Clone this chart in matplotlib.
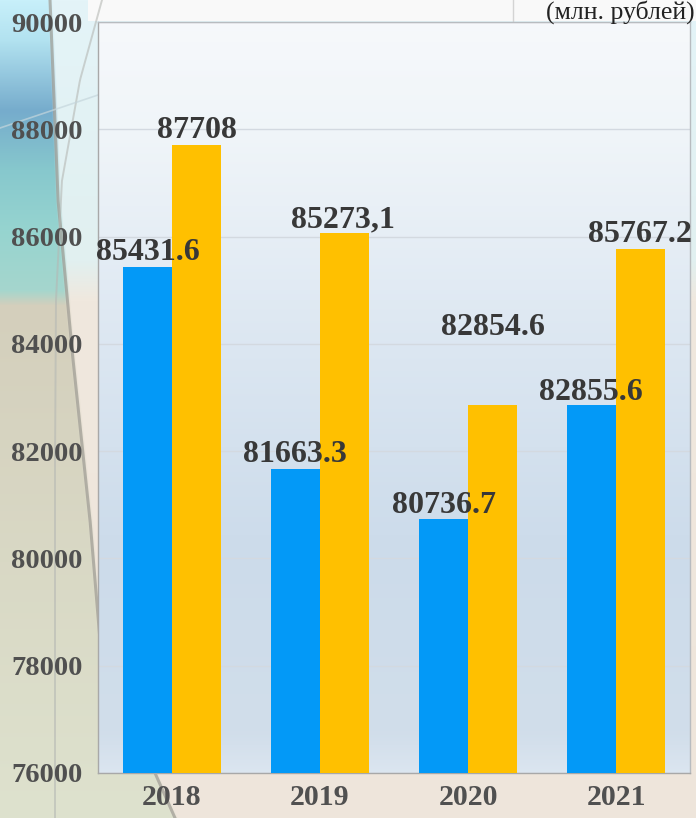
import numpy as np
import matplotlib
matplotlib.use("Agg")
import matplotlib.pyplot as plt

years = ["2018", "2019", "2020", "2021"]
blue_vals = [85431.6, 81663.3, 80736.7, 82855.6]
yellow_vals = [87708.0, 86070.0, 82854.6, 85767.2]
blue_text = ["85431.6", "81663.3", "80736.7", "82855.6"]
yellow_text = ["87708", "85273,1", "82854.6", "85767.2"]
yticks = [76000, 78000, 80000, 82000, 84000, 86000, 88000, 90000]

# hand-placed value labels in the original (x centre, baseline) in data coords
blue_lab_xy = [(-0.162, 85563), (0.831, 81798), (1.838, 80847), (2.831, 82953)]
yellow_lab_xy = [(0.166, 87838), (1.155, 86179), (2.169, 84165), (3.162, 85899)]

W, H = 696, 818
plt.rcParams["font.family"] = ["Liberation Serif", "DejaVu Serif"]
fig = plt.figure(figsize=(W / 100, H / 100), dpi=100)

# slide-like background (pixel rows top->bottom)
bg = fig.add_axes([0, 0, 1, 1], zorder=-5)
py = np.arange(H)[:, None].astype(float)
px = np.arange(W)[None, :].astype(float)
curve = np.interp(py[:, 0], [0, 200, 350, 520, 640, 773, 818], [50, 58, 72, 90, 100, 155, 175])
lstops = [0, 40, 110, 170, 230, 290, 305, 818]
lcols = np.array([[200, 240, 250], [178, 226, 240], [118, 172, 204], [135, 200, 205],
                  [150, 212, 208], [165, 214, 205], [212, 207, 188], [222, 226, 206]]) / 255.0
rstops = [0, 260, 300, 818]
rcols = np.array([[228, 244, 248], [225, 240, 240], [240, 232, 222], [238, 229, 219]]) / 255.0
left = np.stack([np.interp(py[:, 0], lstops, lcols[:, k]) for k in range(3)], axis=1)
right = np.stack([np.interp(py[:, 0], rstops, rcols[:, k]) for k in range(3)], axis=1)
wgt = np.clip((px - curve[:, None]) / 6.0 + 0.5, 0, 1)[:, :, None]
img = left[:, None, :] * (1 - wgt) + right[:, None, :] * wgt
img[:21, 88:] = [0.98, 0.98, 0.98]
bg.imshow(img, extent=[0, W, H, 0], aspect="auto")
cy = np.linspace(0, H, 200)
bg.plot(np.interp(cy, [0, 200, 350, 520, 640, 773, 818], [50, 58, 72, 90, 100, 155, 175]), cy,
        color="#9c9a92", lw=2.2, alpha=0.7)
bg.plot(np.interp(cy, [0, 80, 180, 300, 450], [102, 80, 62, 56, 55]), cy, color="#b5b8b4", lw=1.4, alpha=0.6)
bg.plot([0, 98], [128, 95], color="#c5d6dc", lw=1.2, alpha=0.7)
bg.plot([513, 513], [0, 21], color="#d4d4d4", lw=1)
bg.set_xlim(0, W)
bg.set_ylim(H, 0)
bg.axis("off")

fig.text(695 / W, 1 - 19 / H, "(млн. рублей)", fontsize=18.5, color="#222222", ha="right", va="baseline")

ax = fig.add_axes([98 / W, 45 / H, 592 / W, 751 / H])
fy = np.linspace(0, 1, 300)
gstops = [0, 0.05, 0.3, 0.6, 0.85, 1.0]
gcols = np.array([[0.86, 0.90, 0.94], [0.82, 0.87, 0.92], [0.80, 0.86, 0.92],
                  [0.87, 0.91, 0.95], [0.94, 0.96, 0.975], [0.965, 0.975, 0.985]])
gimg = np.stack([np.interp(fy, gstops, gcols[:, k]) for k in range(3)], axis=1)[:, None, :]
ax.imshow(gimg, extent=[0, 1, 0, 1], transform=ax.transAxes, aspect="auto", origin="lower", zorder=0)

x = np.arange(len(years))
bw = 0.33
ax.bar(x - bw / 2, blue_vals, bw, color="#0399f7", zorder=3)
ax.bar(x + bw / 2, yellow_vals, bw, color="#ffc000", zorder=3)

for txt, (lx, ly) in zip(blue_text + yellow_text, blue_lab_xy + yellow_lab_xy):
    ax.text(lx, ly, txt, fontsize=23, weight="bold", color="#383838", ha="center", va="baseline",
            zorder=5, clip_on=False)

ax.set_xlim(-0.5, 3.5)
ax.set_ylim(76000, 90000)
ax.set_yticks(yticks)
ax.set_yticklabels([str(v) for v in yticks])
ax.set_xticks(x)
ax.set_xticklabels(years)
ax.grid(axis="y", color="#d3d9e0", lw=1, zorder=1)
ax.tick_params(axis="y", length=0, pad=11, labelsize=20.5, labelcolor="#505050")
ax.tick_params(axis="x", length=0, pad=8, labelsize=21.5, labelcolor="#505050")
for lab in ax.get_xticklabels() + ax.get_yticklabels():
    lab.set_fontweight("bold")
for s in ax.spines.values():
    s.set_color("#b8bcc0")
    s.set_linewidth(1)
ax.spines["left"].set_color("#a8a8a8")
ax.spines["bottom"].set_color("#a8a8a8")

fig.savefig("out.png", dpi=100)
